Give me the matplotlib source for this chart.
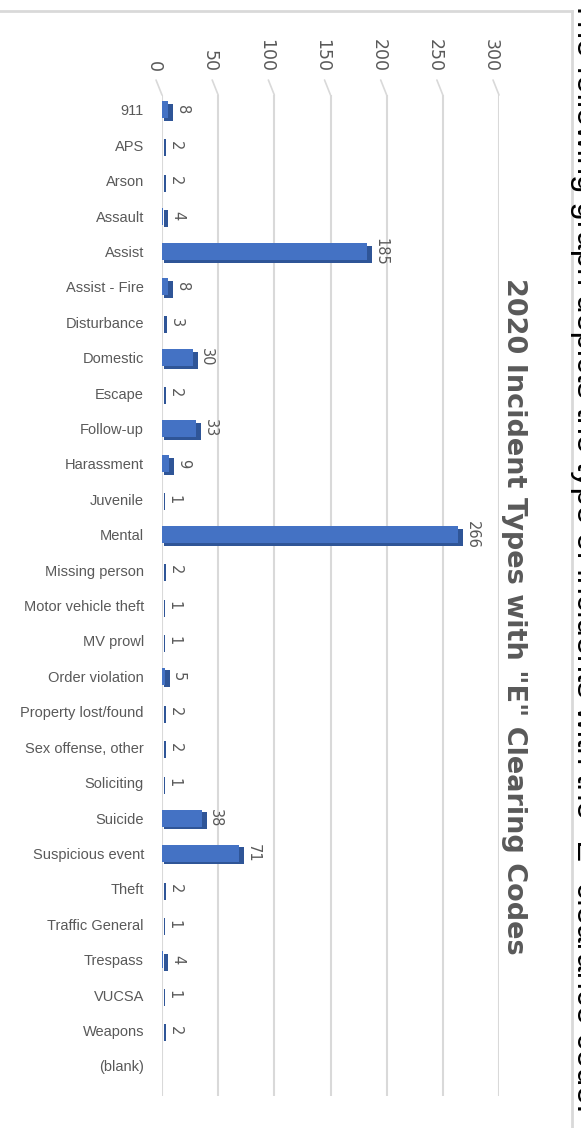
import matplotlib
matplotlib.use("Agg")
import matplotlib.pyplot as plt
import matplotlib.transforms as mtransforms
from matplotlib.lines import Line2D
import numpy as np

# ---- data --------------------------------------------------------------------
categories = ["911", "APS", "Arson", "Assault", "Assist", "Assist - Fire",
              "Disturbance", "Domestic", "Escape", "Follow-up", "Harassment",
              "Juvenile", "Mental", "Missing person", "Motor vehicle theft",
              "MV prowl", "Order violation", "Property lost/found",
              "Sex offense, other", "Soliciting", "Suicide", "Suspicious event",
              "Theft", "Traffic General", "Trespass", "VUCSA", "Weapons", "(blank)"]
counts = [8, 2, 2, 4, 185, 8, 3, 30, 2, 33, 9, 1, 266, 2, 1, 1, 5, 2, 2, 1,
          38, 71, 2, 1, 4, 1, 2, None]
ticks = [0, 50, 100, 150, 200, 250, 300]

title = '2020 Incident Types with "E" Clearing Codes'
side_note = 'The following graph depicts the type of incidents with the "E" clearance code.'

GRAY_TXT = "#595959"
GRID = "#D9D9D9"
BLUE = "#4472C4"
BLUE_DK = "#2F5597"

W, H = 581, 1128
fig = plt.figure(figsize=(W / 100, H / 100), dpi=100)
fig.patch.set_facecolor("white")

ax = fig.add_axes([162 / W, 1 - 1096 / H, (499 - 162) / W, (1096 - 95) / H])
ytop, ybot = -0.42, 27.85
ax.set_xlim(0, 300)
ax.set_ylim(ybot, ytop)

y = np.arange(len(categories))
vals = np.array([np.nan if v is None else v for v in counts], dtype=float)

# shadow (fake 3D depth), then front face
shadow = ax.barh(y, vals, height=0.48, color=BLUE_DK, zorder=2)
shift = mtransforms.offset_copy(ax.transData, fig=fig, x=2, y=-2.5, units="dots")
for p in shadow.patches:
    p.set_transform(shift)
front = mtransforms.offset_copy(ax.transData, fig=fig, x=-3, y=0, units="dots")
for p in ax.barh(y, vals, height=0.48, color=BLUE, zorder=3).patches:
    p.set_transform(front)

for yi, v in zip(y, counts):
    if v is None:
        continue
    ax.annotate(str(v), xy=(v, yi), xytext=(8, 0), textcoords="offset points",
                rotation=-90, rotation_mode="anchor", ha="center", va="center",
                fontsize=10.5, color=GRAY_TXT, family="DejaVu Sans")

# gridlines with little perspective ticks on top
for t in ticks:
    ax.axvline(t, color=GRID, lw=1.5, zorder=1)
    ax.annotate("", xy=(t, ytop), xytext=(-4.3, 10.8), textcoords="offset points",
                annotation_clip=False,
                arrowprops=dict(arrowstyle="-", color=GRID, lw=1.2, shrinkA=0, shrinkB=0))
    ax.annotate(str(t), xy=(t, ytop), xytext=(-5.8, 16.6), textcoords="offset points",
                annotation_clip=False, rotation=-90, rotation_mode="anchor",
                ha="right", va="center", fontsize=12.5, color=GRAY_TXT,
                family="DejaVu Sans")

ax.set_xticks([])
ax.set_yticks(y)
ax.set_yticklabels(categories, fontsize=10.5, color=GRAY_TXT, family="Liberation Sans")
ax.tick_params(axis="y", length=0, pad=13)
for sp in ax.spines.values():
    sp.set_visible(False)

# title (rotated like the page)
fig.text(514 / W, 1 - 616 / H, title, rotation=-90, ha="center", va="center",
         fontsize=19.5, fontweight="bold", color=GRAY_TXT, family="DejaVu Sans")

# chart border
fig.add_artist(Line2D([-0.01, 572 / W], [1 - 11 / H, 1 - 11 / H],
                      transform=fig.transFigure, color=GRID, lw=2))
fig.add_artist(Line2D([572 / W, 572 / W], [1 - 11 / H, -0.01],
                      transform=fig.transFigure, color=GRID, lw=2))

# page text cut off at the right edge
fig.text(577 / W, 1.0, side_note, rotation=-90, rotation_mode="anchor",
         ha="left", va="baseline", fontsize=23.5, color="black",
         family="Liberation Sans")

fig.savefig("out.png", dpi=100)
